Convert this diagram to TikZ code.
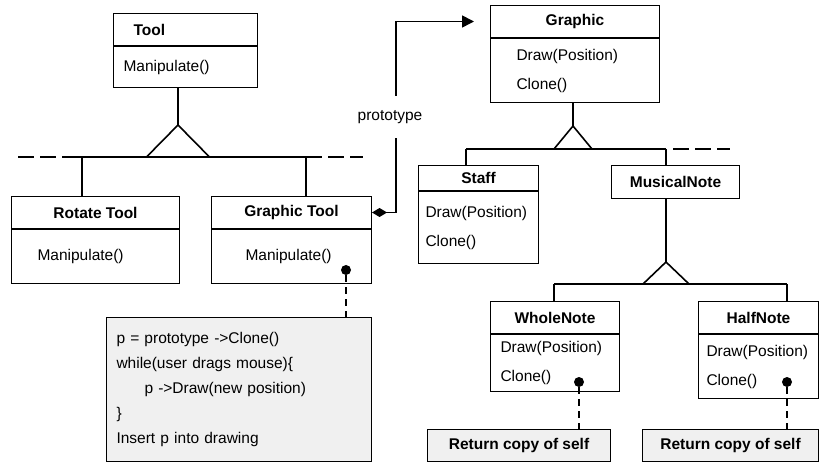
\documentclass[tikz,border=0pt]{standalone}
\usepackage{fontspec}
\setmainfont{Liberation Sans}
\usepackage{tikz}
\usetikzlibrary{positioning}
\usetikzlibrary{arrows.meta}
\usetikzlibrary{calc}
\tikzstyle{classhead}=[draw,line width=1pt,anchor=north west,inner sep=0pt,font=\bfseries\fontsize{15.5}{19}\selectfont]
\tikzstyle{classbody}=[draw,line width=1pt,anchor=north west,inner ysep=0pt,align=left,font=\fontsize{15.5}{29}\selectfont]
\tikzstyle{notebox}=[draw,line width=1pt,fill=black!6,anchor=north west,inner ysep=0pt]
\tikzstyle{conn}=[draw,line width=1.6pt]
\tikzstyle{dashbar}=[draw,line width=1.6pt,dash pattern=on 16pt off 6pt]
\tikzstyle{dashlink}=[draw,line width=1.6pt,dash pattern=on 7pt off 5pt]
\tikzstyle{dot}=[circle,fill=black,inner sep=0pt,minimum size=10pt]
\tikzstyle{lbl}=[font=\fontsize{15.5}{19}\selectfont]

\begin{document}
\begin{tikzpicture}[x=1pt,y=-1pt]

 \useasboundingbox (0,0) rectangle (819,462);

 %class headers
 \node[classhead, minimum height=32, text width=104, inner xsep=20, align=left] (tool) at (113,13) {Tool};

 \foreach \x/\y/\w/\h/\name/\label in {11/196/168/32/rot/Rotate Tool, 211/196/160/32/gtool/Graphic Tool,
          490/5/169/32/graphic/Graphic, 418/165/120/25/staff/Staff, 611/165/128/33/mnote/MusicalNote,
          490/301/129/32/whole/WholeNote, 698/301/120/32/half/HalfNote}
        \node[classhead, minimum width=\w, minimum height=\h] (\name) at (\x,\y) {\label};

 %class bodies
 \foreach \name/\h/\s/\tw/\label in {tool/41/10/124/{Manipulate()}, rot/54/26/116/{Manipulate()},
          gtool/54/34/92/{Manipulate()}, graphic/64/26/117/{Draw(Position)\\Clone()},
          staff/72/7/106/{Draw(Position)\\Clone()}, whole/57/10/109/{Draw(Position)\\Clone()},
          half/64/8/104/{Draw(Position)\\Clone()}}
        \node[classbody, minimum height=\h, inner xsep=\s, text width=\tw] (\name-b) at (\name.south west) {\label};

 %notes
 \node[notebox, text width=245, inner xsep=10, minimum height=144, align=left,
       font=\fontsize{15.5}{25}\selectfont] (code) at (106,317)
       {p = prototype ->Clone()\\while(user drags mouse)\{\\\hspace*{28pt}p ->Draw(new position)\\\}\\Insert p into drawing};
 \node[notebox, minimum width=183, minimum height=32, font=\bfseries\fontsize{15.5}{19}\selectfont] (ret-a) at (427,429) {Return copy of self};
 \node[notebox, minimum width=176, minimum height=32, font=\bfseries\fontsize{15.5}{19}\selectfont] (ret-b) at (642,429) {Return copy of self};

 %inheritance
 \foreach \x/\y/\name in {178/125/apA, 573/126/apB, 666/262/apC,
          82/157/dA1, 306/157/dA2, 466/149/dB1, 666/149/dB2, 554/284/dC1, 787/284/dC2}
        \coordinate (\name) at (\x,\y);

 \foreach \ap/\w/\h in {apA/31.5/32, apB/19/23, apC/23/22}
        \draw[conn, line join=miter] (\ap) -- ++(-\w,\h) -- ++(2*\w,0) -- cycle;

 \foreach \source/\dest in {tool-b/apA, graphic-b/apB, mnote/apC}
        \path[conn] (\source.south -| \dest) -- (\dest);

 \foreach \source/\dest in {rot/dA1, gtool/dA2, staff/dB1, mnote/dB2, whole/dC1, half/dC2}
        \path[conn] (\source.north -| \dest) -- (\dest);

 \draw[conn] ($(dA1)+(-15,0)$) -- (dA2);
 \draw[dashbar] ($(dA1)+(-64,0)$) -- ($(dA1)+(-15,0)$);
 \draw[dashbar] (dA2) -- ++(57,0);
 \draw[conn] (dB1) -- (dB2);
 \draw[dashbar] ($(dB2)+(7,0)$) -- ++(57,0);
 \draw[conn] (dC1) -- (dC2);

 %prototype link
 \draw[conn, {Diamond[length=15pt,width=9pt]}-{Triangle[length=12pt,width=12pt]}]
       (gtool.east) -- ++(24,0) |- node[lbl, pos=0.25, xshift=-6pt, fill=white, inner ysep=14pt] {prototype}
       ($(graphic.west)+(-16,0)$);

 %note links
 \foreach \x/\y/\name/\note in {346/270/dot-g/code, 579/382/dot-w/ret-a, 787/382/dot-h/ret-b}
   {
        \node[dot] (\name) at (\x,\y) {};
        \path[dashlink] (\name) -- (\name |- \note.north);
   }

\end{tikzpicture}
\end{document}
